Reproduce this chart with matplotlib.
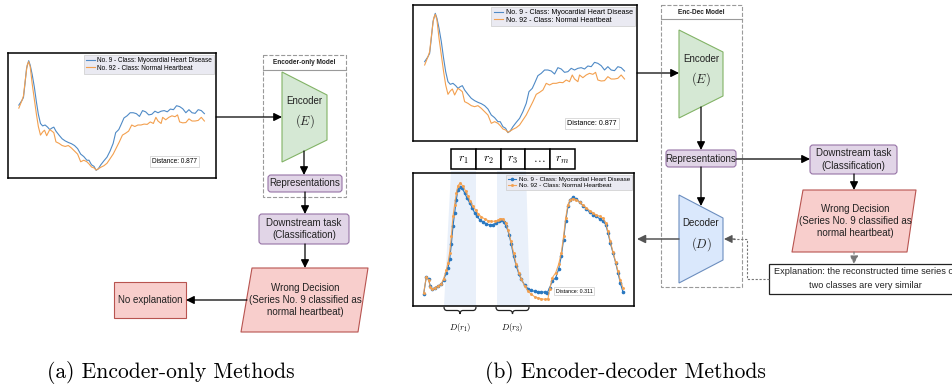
import matplotlib
matplotlib.use("Agg")
import matplotlib.pyplot as plt
from matplotlib.patches import Polygon, Rectangle, FancyBboxPatch, PathPatch
from matplotlib.path import Path

plt.rcParams['mathtext.fontset'] = 'cm'
SANS = 'Liberation Sans'

# ECG200 series No. 9 and No. 92 (raw)
raw_t_9 = [0, 1.6, 2.4, 3.2, 4, 5.1, 5.9, 6.9, 8, 9.1, 10.1, 11.2, 12.3, 13.6, 14.9,
           16, 17.1, 18.1, 19.2, 20.8, 22.4, 24, 25.6, 27.2, 28.8, 30.4, 32, 33.6,
           35.2, 36.3, 37.6, 38.9, 40, 41.1, 42.4, 44, 45.6, 47.2, 48.8, 50.1, 51.7,
           52.8, 54.4, 56, 57.6, 59.2, 60.8, 62.4, 64, 65.6, 67.2, 68.8, 70.4, 72,
           73.6, 75.2, 76.8, 78.4, 80, 81.6, 83.2, 84.8, 86.4, 88, 89.6, 91.2, 92.8,
           94.4, 96]
raw_v_9 = [1.30, 1.45, 1.55, 2.00, 2.50, 2.75, 2.60, 2.30, 1.90, 1.40, 1.00, 0.70,
           0.62, 0.65, 0.58, 0.50, 0.55, 0.58, 0.45, 0.32, 0.20, 0.13, 0.08, 0.04,
           -0.02, -0.12, -0.30, -0.38, -0.50, -0.50, -0.65, -0.70, -0.83, -0.78,
           -0.65, -0.52, -0.40, -0.20, 0.05, 0.40, 0.50, 0.65, 0.88, 0.95, 1.05,
           1.05, 1.02, 0.93, 1.12, 1.08, 0.98, 1.00, 1.10, 1.05, 1.10, 1.12, 1.08,
           1.17, 1.15, 1.28, 1.25, 1.18, 1.05, 1.15, 1.05, 1.03, 1.15, 1.12, 1.02]
raw_t_92 = [0, 1.6, 2.4, 3.2, 4.3, 5.1, 5.9, 6.9, 8, 9.1, 10.1, 11.2, 12.3, 13.3,
            14.4, 15.2, 16, 17.1, 18.1, 19.2, 20.8, 22.4, 24, 25.6, 27.2, 28.8, 30.4,
            32, 33.6, 35.2, 36.3, 37.6, 38.9, 40, 41.1, 42.4, 44, 45.6, 47.2, 48.8,
            50.4, 52, 53.6, 55.2, 56.8, 58.4, 60, 61.6, 63.2, 64.8, 66.4, 68, 69.6,
            70.9, 72, 73.6, 74.4, 76, 77.6, 79.2, 80.8, 82.1, 83.2, 84.8, 86.4, 88,
            89.6, 91.2, 92.8, 94.4, 96]
raw_v_92 = [1.20, 1.45, 1.60, 2.05, 2.60, 2.72, 2.55, 2.00, 1.50, 1.00, 0.60, 0.32,
            0.42, 0.48, 0.30, 0.40, 0.50, 0.45, 0.40, 0.10, 0.05, -0.02, -0.05, -0.02,
            -0.10, -0.20, -0.30, -0.55, -0.50, -0.55, -0.62, -0.72, -0.75, -0.82,
            -0.78, -0.73, -0.68, -0.60, -0.45, -0.30, -0.10, 0.10, 0.32, 0.38, 0.45,
            0.65, 0.60, 0.65, 0.65, 0.68, 0.67, 0.75, 0.70, 0.90, 0.78, 0.70, 0.90,
            0.82, 0.90, 0.95, 0.92, 0.98, 0.75, 0.72, 0.73, 0.85, 0.78, 0.78, 0.80,
            0.90, 0.78]

# decoder reconstructions
rec_t_9 = [0, 1.3, 2.4, 3.2, 4, 5.3, 6.9, 8.5, 9.6, 10.9, 11.7, 12.5, 13.3, 14.1,
           14.9, 15.7, 16.5, 17.3, 18.4, 19.7, 20.8, 22.1, 23.4, 24.5, 25.6, 26.9,
           28.5, 30.1, 31.7, 33.3, 34.9, 36.2, 37.3, 38.4, 39.7, 41, 42.1, 43.2,
           44.5, 45.8, 46.9, 48.5, 50.1, 51.7, 53.3, 54.9, 56.5, 58.1, 59.2, 60.5,
           61.8, 63.4, 64.8, 66.1, 67.2, 68.2, 69.3, 70.4, 71.7, 73.3, 74.9, 76.5,
           78.1, 79.7, 81.3, 82.9, 84.5, 86.1, 87.4, 88.5, 89.6, 90.9, 92.2, 93.3,
           94.4, 95.7]
rec_v_9 = [0.15, 0.68, 0.60, 0.40, 0.30, 0.35, 0.40, 0.45, 0.58, 0.80, 0.95, 1.20,
           1.65, 2.20, 2.60, 3.00, 3.30, 3.38, 3.35, 3.20, 3.05, 2.90, 2.75, 2.60,
           2.50, 2.40, 2.32, 2.28, 2.23, 2.25, 2.30, 2.35, 2.40, 2.32, 2.20, 1.95,
           1.65, 1.30, 1.00, 0.75, 0.60, 0.43, 0.32, 0.27, 0.24, 0.23, 0.22, 0.22,
           0.18, 0.35, 0.55, 0.65, 0.90, 1.30, 1.80, 2.35, 2.80, 3.00, 3.07, 3.02,
           2.92, 2.82, 2.72, 2.62, 2.55, 2.50, 2.42, 2.35, 2.25, 2.00, 1.70, 1.40,
           1.10, 0.80, 0.50, 0.22]
rec_t_92 = [0, 1.3, 2.4, 3.2, 4, 5.3, 6.9, 8.5, 9.6, 10.9, 11.7, 12.5, 13.3, 14.1,
            14.9, 15.7, 16.5, 17.6, 18.9, 20.2, 21.3, 22.4, 23.7, 25, 26.1, 27.7,
            29.3, 30.9, 32.5, 34.1, 35.7, 36.8, 38.1, 39.4, 40.6, 41.9, 43.2, 44.5,
            45.8, 46.9, 48.5, 50.1, 51.7, 53.3, 54.9, 56.5, 58.1, 59.7, 60.5, 61.8,
            63.4, 64.8, 66.1, 67.2, 68.2, 69.3, 70.4, 71.7, 73.3, 74.9, 76.5, 78.1,
            79.7, 81.3, 82.9, 84.5, 86.1, 87.4, 88.5, 89.6, 90.9, 92.2, 93.3, 94.4,
            95.7]
rec_v_92 = [0.18, 0.68, 0.58, 0.38, 0.30, 0.35, 0.40, 0.47, 0.62, 0.88, 1.10, 1.40,
            1.90, 2.50, 2.85, 3.20, 3.42, 3.50, 3.40, 3.25, 3.10, 2.95, 2.80, 2.68,
            2.58, 2.48, 2.42, 2.37, 2.35, 2.35, 2.38, 2.43, 2.42, 2.30, 2.08, 1.75,
            1.40, 1.05, 0.80, 0.62, 0.40, 0.25, 0.15, 0.08, 0.04, 0.02, 0.00, 0.02,
            0.30, 0.65, 0.80, 1.05, 1.40, 1.90, 2.45, 2.85, 3.00, 3.03, 3.00, 2.92,
            2.83, 2.75, 2.67, 2.60, 2.54, 2.50, 2.44, 2.30, 2.05, 1.75, 1.43, 1.12,
            0.85, 0.58, 0.35]

label_9 = 'No. 9 - Class: Myocardial Heart Disease'
label_92 = 'No. 92 - Class: Normal Heartbeat'
raw_distance = 'Distance: 0.877'
rec_distance = 'Distance: 0.311'
tokens = [r'$r_1$', r'$r_2$', r'$r_3$', r'$\dots$', r'$r_m$']

BLUE = '#4f8ac6'
ORANGE = '#f3a04f'

W, H = 953, 390
fig = plt.figure(figsize=(W / 100, H / 100), dpi=100)


def px_axes(x0, y0, x1, y1):
    a = fig.add_axes([x0 / W, 1 - y1 / H, (x1 - x0) / W, (y1 - y0) / H])
    a.set_xticks([])
    a.set_yticks([])
    for s in a.spines.values():
        s.set_color('black')
        s.set_linewidth(1.1)
    a.set_zorder(2)
    a.patch.set_alpha(0)
    return a


def raw_plot(x0, y0, x1, y1, fs):
    a = px_axes(x0, y0, x1, y1)
    a.plot(raw_t_9, raw_v_9, color=BLUE, lw=0.8, label=label_9)
    a.plot(raw_t_92, raw_v_92, color=ORANGE, lw=0.8, label=label_92)
    a.set_xlim(-5.6, 102)
    a.set_ylim(-1.08, 3.0)
    leg = a.legend(loc='upper right', fancybox=False, facecolor='#eaeaf2',
                   edgecolor='#cccccc', framealpha=1, borderpad=0.3, handlelength=1.3,
                   handletextpad=0.4, labelspacing=0.1, borderaxespad=0.3,
                   prop={'family': SANS, 'size': fs})
    leg.get_frame().set_linewidth(0.5)
    a.text(0.80, 0.13, raw_distance, transform=a.transAxes, ha='center', va='center',
           fontsize=fs, family=SANS,
           bbox=dict(boxstyle='square,pad=0.3', fc='white', ec='#cccccc', lw=0.5))
    return a


raw_plot(8, 53, 216, 178, 4.7)
raw_plot(413, 5, 637, 141, 5.1)

# reconstruction plot
rp = px_axes(413, 173, 634, 306)
rp.plot(rec_t_9, rec_v_9, color='#2a78c0', lw=0.8, marker='.', ms=3.2, label=label_9)
rp.plot(rec_t_92, rec_v_92, color=ORANGE, lw=0.8, marker='.', ms=2.4, alpha=0.9,
        label=label_92)
rp.set_xlim(-5.1, 101)
rp.set_ylim(-0.2, 3.8)
leg = rp.legend(loc='upper right', fancybox=False, facecolor='#eaeaf2', edgecolor='#cccccc',
                framealpha=1, borderpad=0.3, handlelength=1.3, handletextpad=0.4,
                labelspacing=0.1, borderaxespad=0.3, prop={'family': SANS, 'size': 4.5})
leg.get_frame().set_linewidth(0.5)
rp.text(0.73, 0.11, rec_distance, transform=rp.transAxes, ha='center', va='center',
        fontsize=3.8, family=SANS,
        bbox=dict(boxstyle='square,pad=0.3', fc='white', ec='#cccccc', lw=0.5))

# background layer for shaded token bands
bg = fig.add_axes([0, 0, 1, 1])
bg.set_xlim(0, W)
bg.set_ylim(H, 0)
bg.axis('off')
bg.set_zorder(1)
bg.add_patch(Polygon([(451, 171), (476, 171), (476, 306), (444, 306)], closed=True,
                     fc='#e9f0fa', ec='none'))
bg.add_patch(Polygon([(497, 171), (526, 171), (530, 306), (497, 306)], closed=True,
                     fc='#e9f0fa', ec='none'))

# diagram layer
ax = fig.add_axes([0, 0, 1, 1])
ax.set_xlim(0, W)
ax.set_ylim(H, 0)
ax.axis('off')
ax.set_zorder(3)
ax.patch.set_alpha(0)


def arrow(x0, y0, x1, y1, color='black', ls='-', lw=0.9):
    ax.annotate('', xy=(x1, y1), xytext=(x0, y0),
                arrowprops=dict(arrowstyle='-|>,head_length=0.7,head_width=0.35',
                                mutation_scale=7, lw=lw, color=color, linestyle=ls,
                                shrinkA=0, shrinkB=0))


def rbox(x0, y0, x1, y1, fc, ec, r=3, lw=0.8):
    ax.add_patch(FancyBboxPatch((x0, y0), x1 - x0, y1 - y0,
                                boxstyle=f'round,pad=0,rounding_size={r}',
                                fc=fc, ec=ec, lw=lw))


def label(x, y, s, fs=7, **kw):
    ax.text(x, y, s, ha='center', va='center', fontsize=fs, family=SANS,
            color='#222222', **kw)


def model_box(x0, y0, x1, y1, yh, title):
    ax.add_patch(Rectangle((x0, y0), x1 - x0, y1 - y0, fc='white', ec='#9a9a9a',
                           lw=0.8, ls='--'))
    ax.plot([x0, x1], [yh, yh], color='#9a9a9a', lw=0.8)
    label((x0 + x1) / 2, (y0 + yh) / 2, title, fs=4.7, weight='bold')


def trapezoid(xl, xr, yt, yb, yrt, yrb, fc, ec, name, sym):
    ax.add_patch(Polygon([(xl, yt), (xr, yrt), (xr, yrb), (xl, yb)], closed=True,
                         fc=fc, ec=ec, lw=0.8))
    xm = (xl + xr) / 2
    label(xm, yt + 28.5, name, fs=7)
    ax.text(xm, yt + 49.5, sym, ha='center', va='center', fontsize=9,
            color='#222222')


def parallelogram(xtl, xtr, xbl, xbr, yt, yb, lines):
    ax.add_patch(Polygon([(xtl, yt), (xtr, yt), (xbr, yb), (xbl, yb)], closed=True,
                         fc='#f8cecc', ec='#b85450', lw=0.8, joinstyle='round'))
    label((xtl + xbr) / 2, (yt + yb) / 2, '\n'.join(lines), fs=7, linespacing=1.25)


def brace(x0, x1, y, h=7):
    xm = (x0 + x1) / 2
    verts = [(x0, y), (x0, y + h / 2), (x0 + 3, y + h / 2), (xm - 3, y + h / 2),
             (xm, y + h / 2), (xm, y + h), (xm, y + h / 2), (xm + 3, y + h / 2),
             (x1 - 3, y + h / 2), (x1, y + h / 2), (x1, y)]
    codes = [Path.MOVETO, Path.CURVE3, Path.CURVE3, Path.LINETO, Path.CURVE3, Path.CURVE3,
             Path.CURVE3, Path.CURVE3, Path.LINETO, Path.CURVE3, Path.CURVE3]
    ax.add_patch(PathPatch(Path(verts, codes), fc='none', ec='#222222', lw=0.9))


decision = ['Wrong Decision', '(Series No. 9 classified as', 'normal heartbeat)']

# ---- (a) encoder-only ----
arrow(216, 117, 282, 117)
model_box(263, 55, 346, 197, 70, 'Encoder-only Model')
trapezoid(282, 327, 72, 162, 95, 140, '#d5e8d4', '#82b366', 'Encoder', r'$(E)$')
arrow(304, 151, 304, 175)
rbox(268, 175, 342, 192, '#e1d5e7', '#9673a6')
label(305, 183.5, 'Representations')
arrow(305, 192, 305, 214)
rbox(259, 214, 349, 244, '#e1d5e7', '#9673a6')
label(304, 229, 'Downstream task\n(Classification)', linespacing=1.3)
arrow(305, 244, 305, 268)
parallelogram(252, 368, 241, 358, 268, 332, decision)
arrow(247, 300, 186, 300)
ax.add_patch(Rectangle((114, 282), 72, 36, fc='#f8cecc', ec='#b85450', lw=0.8))
label(150, 300, 'No explanation')

# ---- (b) encoder-decoder ----
arrow(637, 73, 679, 73)
model_box(661, 5, 742, 287, 19, 'Enc-Dec Model')
trapezoid(679, 723, 30, 118, 52, 96, '#d5e8d4', '#82b366', 'Encoder', r'$(E)$')
arrow(701, 107, 701, 150)
rbox(666, 150, 736, 167, '#e1d5e7', '#9673a6')
label(701, 158.5, 'Representations')
arrow(701, 167, 701, 206)
trapezoid(679, 723, 195, 283, 218, 260, '#dae8fc', '#6c8ebf', 'Decoder', r'$(D)$')
arrow(736, 159, 810, 159)
rbox(810, 145, 897, 174, '#e1d5e7', '#9673a6')
label(853.5, 159.5, 'Downstream task\n(Classification)', linespacing=1.3)
arrow(854, 174, 854, 190)
parallelogram(803, 916, 792, 907, 190, 252, decision)
arrow(854, 252, 854, 264, color='#777777', ls=(0, (2, 1.5)), lw=0.8)
ax.add_patch(Rectangle((769, 264), 200, 30, fc='white', ec='#222222', lw=0.9))
label(865, 272, 'Explanation: the reconstructed time series of', fs=6.6)
label(865, 286, 'two classes are very similar', fs=6.6)
ax.plot([769, 747, 747, 732], [279, 279, 239, 239], color='#777777', lw=0.8,
        ls=(0, (2, 1.5)))
arrow(735, 239, 724, 239, color='#555555', lw=0.8)
arrow(679, 239, 637, 239, color='#555555', lw=1.1)

# latent tokens
x = 451
for tok in tokens:
    ax.add_patch(Rectangle((x, 149), 24.8, 20, fc='white', ec='black', lw=1.1))
    ax.text(x + 12.4, 159, tok, ha='center', va='center', fontsize=8.5)
    x += 24.8

brace(444, 476, 307)
brace(496, 529, 307)
ax.text(460, 327, r'$D(r_1)$', ha='center', va='center', fontsize=6.2)
ax.text(512.5, 327, r'$D(r_3)$', ha='center', va='center', fontsize=6.2)

# captions
ax.text(171, 373, '(a) Encoder-only Methods', ha='center', va='center', fontsize=15.5,
        family='cmr10')
ax.text(625, 373, '(b) Encoder-decoder Methods', ha='center', va='center', fontsize=15.5,
        family='cmr10')

fig.savefig('out.png', dpi=100)
